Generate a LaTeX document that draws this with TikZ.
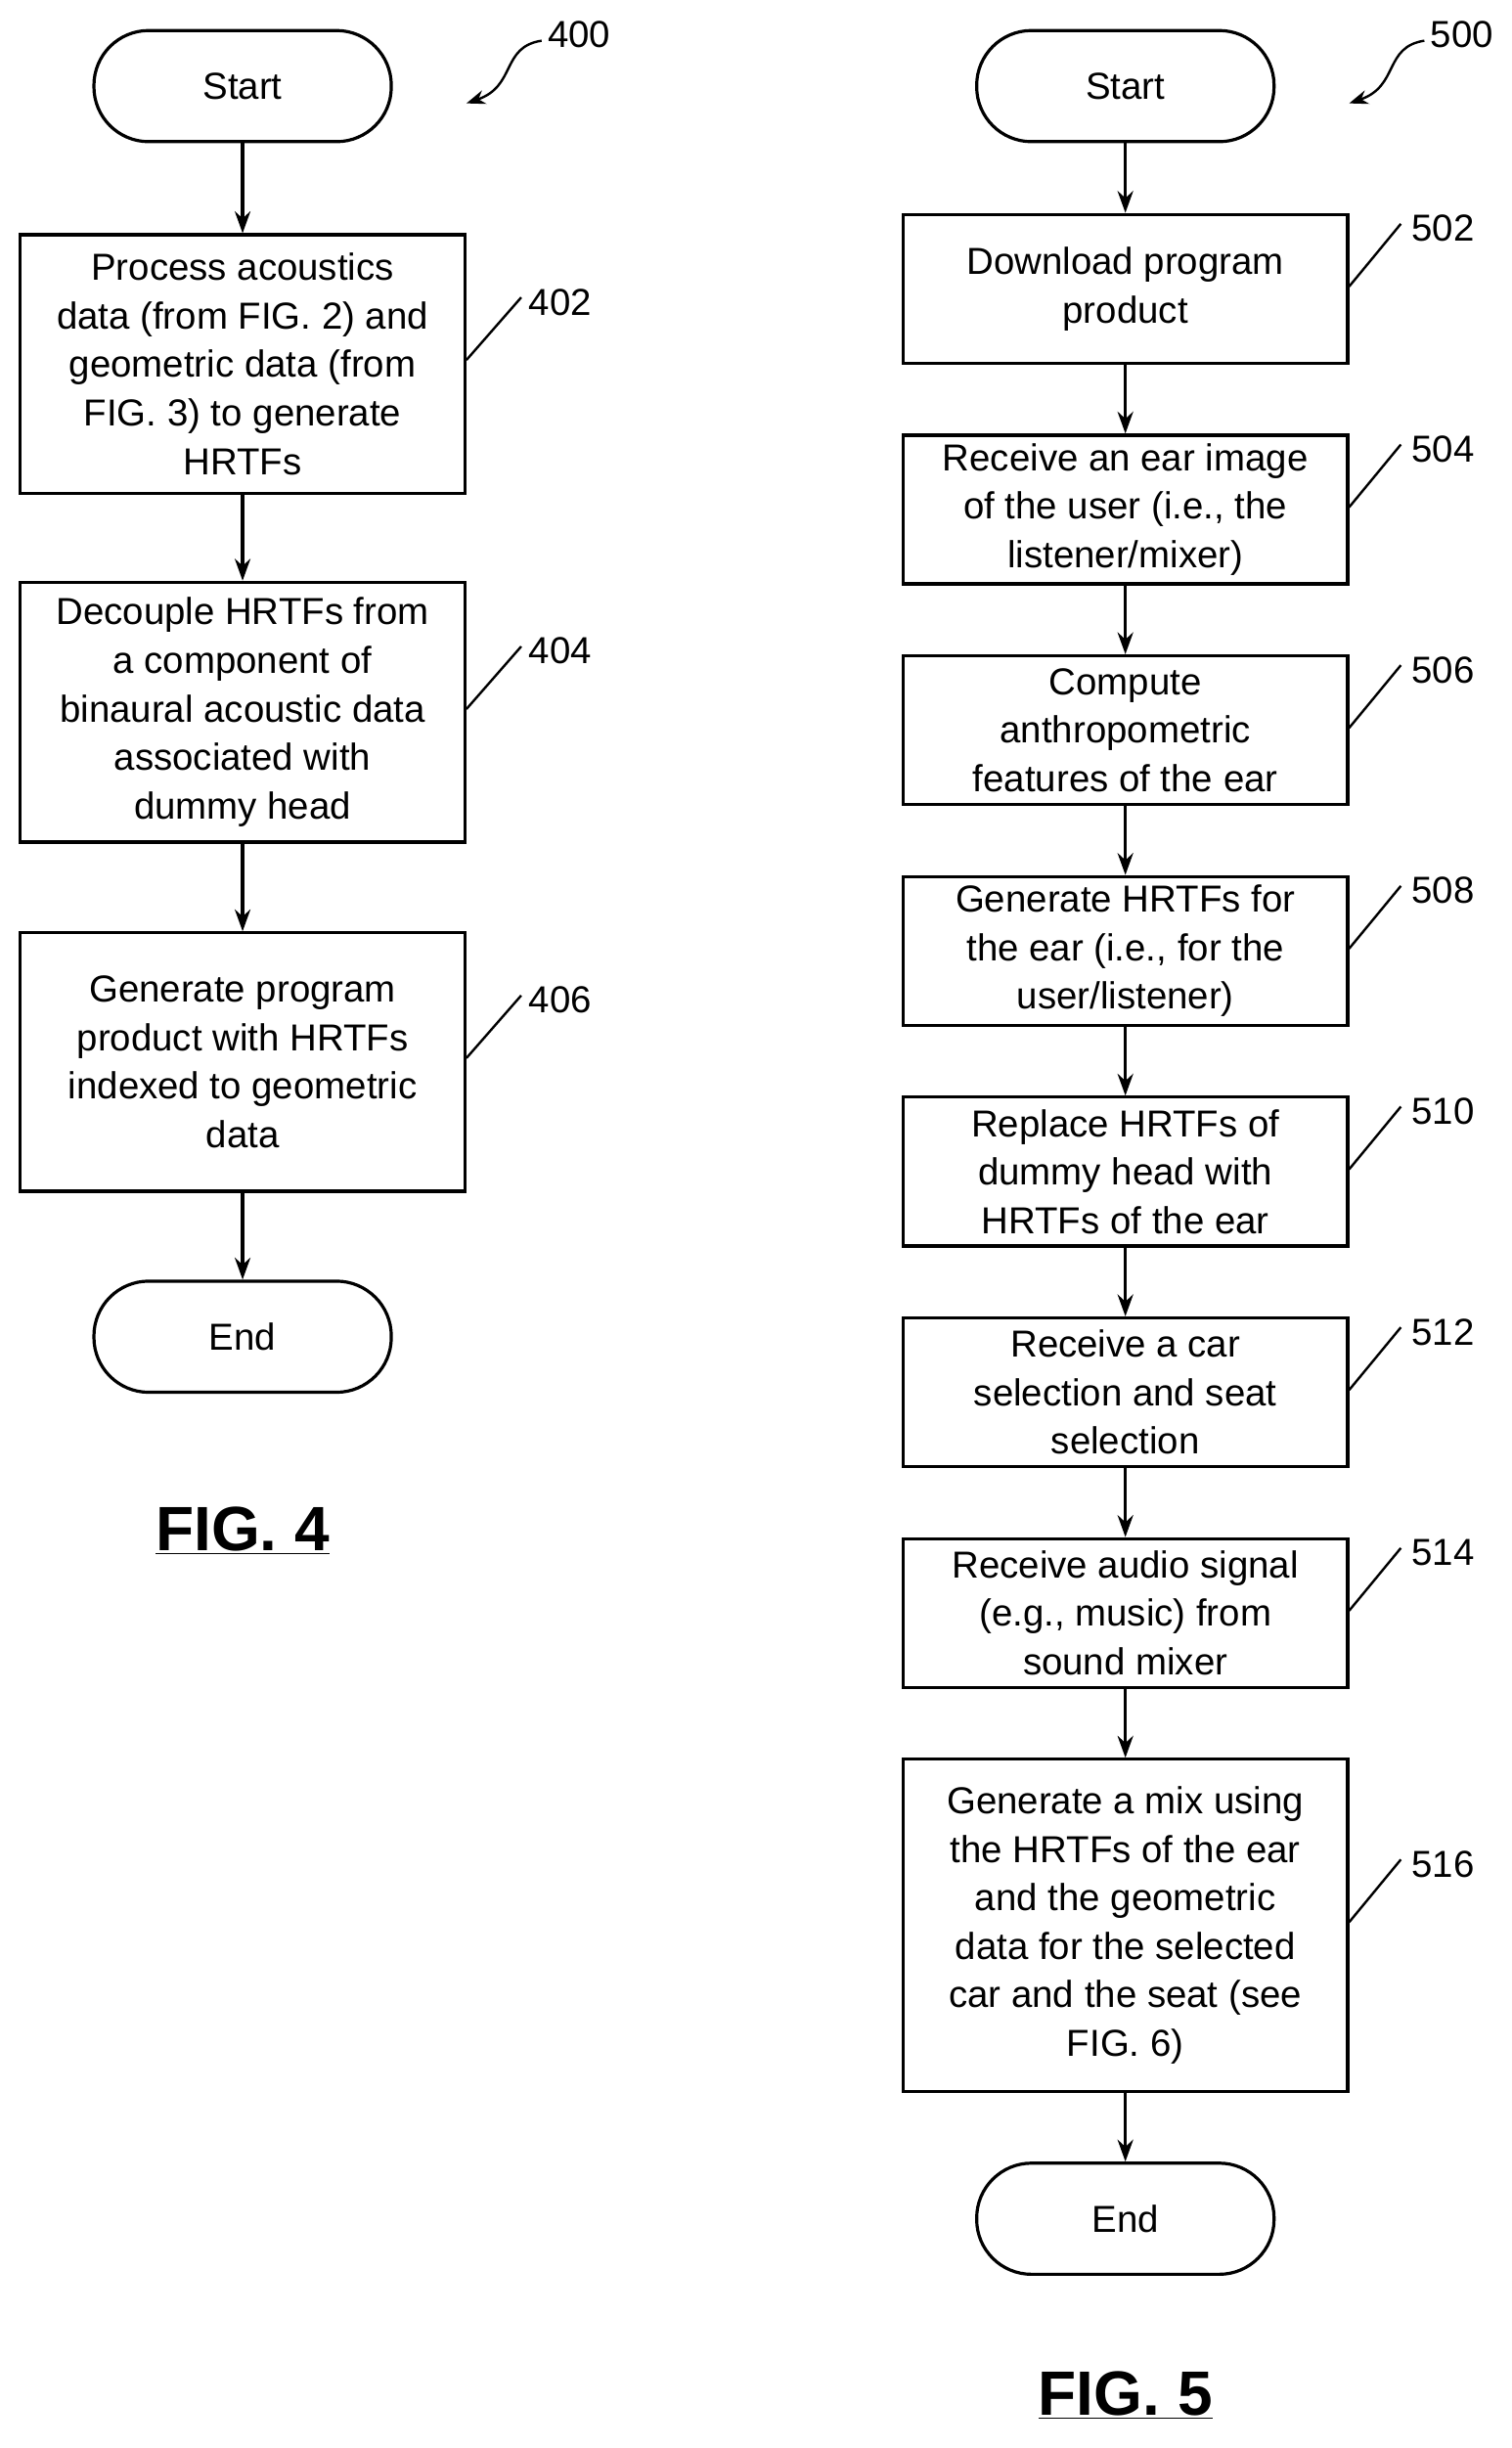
\documentclass[tikz,border=0pt]{standalone}
\usetikzlibrary{arrows.meta}
\usepackage{fontspec}
\setmainfont{Liberation Sans}
\begin{document}
\begin{tikzpicture}[x=1pt,y=-1pt,
 box/.style={draw,line width=2pt,align=center,font=\fontsize{24}{31}\selectfont,inner sep=0pt},
 term/.style={draw,line width=2pt,rounded corners=35pt,minimum width=190pt,minimum height=71pt,font=\fontsize{24}{31}\selectfont},
 arr/.style={line width=2pt,-{Stealth[length=14pt,width=10pt]}},
 lbl/.style={font=\fontsize{24}{28}\selectfont},
 lead/.style={line width=1.5pt}]
\useasboundingbox (0,0) rectangle (966,1564);
% FIG 4
\node[term] (s4) at (155,55) {Start};
\node[box,minimum width=284pt,minimum height=165pt] (b402) at (155,232.5) {Process acoustics\\data (from FIG. 2) and\\geometric data (from\\FIG. 3) to generate\\HRTFs};
\node[box,minimum width=284pt,minimum height=166pt] (b404) at (155,455) {Decouple HRTFs from\\a component of\\binaural acoustic data\\associated with\\dummy head};
\node[box,minimum width=284pt,minimum height=165pt] (b406) at (155,678.5) {Generate program\\product with HRTFs\\indexed to geometric\\data};
\node[term] (e4) at (155,854) {End};
\draw[arr] (s4)--(b402); \draw[arr] (b402)--(b404); \draw[arr] (b404)--(b406); \draw[arr] (b406)--(e4);
\node[font=\fontsize{40}{44}\selectfont\bfseries] (f4) at (155,978) {\underline{FIG. 4}};
\node[lbl] (l400) at (370,22) {400};
\coordinate (c400) at (346,26);
\draw[lead,-{Stealth[length=12pt,width=9pt]}] (c400) .. controls (320,30) and (330,55) .. (298,66);
\node[lbl] (l402) at (358,193) {402}; \draw[lead] (b402.east|-0,230) -- (333,190);
\node[lbl] (l404) at (358,416) {404}; \draw[lead] (b404.east|-0,453) -- (333,413);
\node[lbl] (l406) at (358,639) {406}; \draw[lead] (b406.east|-0,676) -- (333,636);
% FIG 5
\node[term] (s5) at (719,55) {Start};
\node[box,minimum width=284pt,minimum height=95pt] (b502) at (719,184.5) {Download program\\product};
\node[box,minimum width=284pt,minimum height=95pt] (b504) at (719,325.5) {Receive an ear image\\of the user (i.e., the\\listener/mixer)};
\node[box,minimum width=284pt,minimum height=95pt] (b506) at (719,466.5) {Compute\\anthropometric\\features of the ear};
\node[box,minimum width=284pt,minimum height=95pt] (b508) at (719,607.5) {Generate HRTFs for\\the ear (i.e., for the\\user/listener)};
\node[box,minimum width=284pt,minimum height=95pt] (b510) at (719,748.5) {Replace HRTFs of\\dummy head with\\HRTFs of the ear};
\node[box,minimum width=284pt,minimum height=95pt] (b512) at (719,889.5) {Receive a car\\selection and seat\\selection};
\node[box,minimum width=284pt,minimum height=95pt] (b514) at (719,1030.5) {Receive audio signal\\(e.g., music) from\\sound mixer};
\node[box,minimum width=284pt,minimum height=212pt] (b516) at (719,1230) {Generate a mix using\\the HRTFs of the ear\\and the geometric\\data for the selected\\car and the seat (see\\FIG. 6)};
\node[term] (e5) at (719,1417.5) {End};
\draw[arr] (s5)--(b502); \draw[arr] (b502)--(b504); \draw[arr] (b504)--(b506); \draw[arr] (b506)--(b508);
\draw[arr] (b508)--(b510); \draw[arr] (b510)--(b512); \draw[arr] (b512)--(b514); \draw[arr] (b514)--(b516); \draw[arr] (b516)--(e5);
\node[font=\fontsize{40}{44}\selectfont\bfseries] (f5) at (719,1530) {\underline{FIG. 5}};
\node[lbl] (l500) at (934,22) {500};
\coordinate (c500) at (910,26);
\draw[lead,-{Stealth[length=12pt,width=9pt]}] (c500) .. controls (884,30) and (894,55) .. (862,66);
\foreach \n/\y in {502/146,504/287,506/428,508/569,510/710,512/851,514/992,516/1191}{
 \node[lbl] (l\n) at (922,\y) {\n};
 \draw[lead] (b\n.east|-0,\y+37) -- (895,\y-3);
}
\end{tikzpicture}
\end{document}
